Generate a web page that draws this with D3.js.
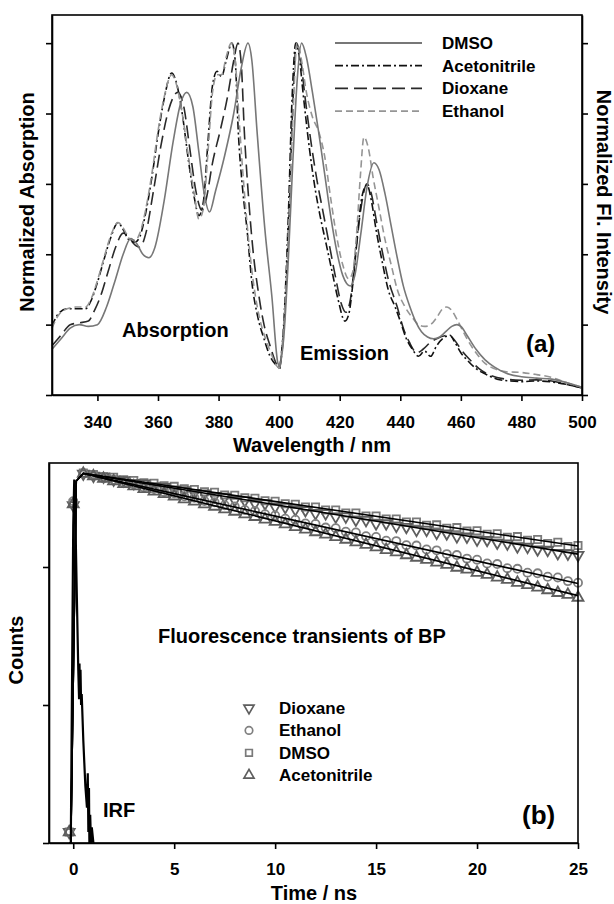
<!DOCTYPE html>
<html><head><meta charset="utf-8">
<script src="https://cdn.jsdelivr.net/npm/d3@7"></script>
<style>
body{margin:0;background:#fff;}
text{font-family:"Liberation Sans",Arial,sans-serif;font-weight:bold;fill:#000;}
</style></head>
<body><svg id="chart" width="614" height="904"></svg>
<script>
// ---------- Panel (a) data: [wavelength nm, normalized intensity] ----------
const dmsoAbs = [[325,0.13],[328,0.16],[331,0.19],[334,0.2],[337,0.195],[340,0.2],[343,0.25],[346,0.33],[348.5,0.4],[351,0.445],[353,0.43],[355,0.4],[357,0.39],[359,0.42],[362,0.55],[365,0.72],[367.5,0.83],[369.5,0.86],[371.5,0.82],[373.5,0.69],[375.5,0.56],[377,0.52],[379,0.58],[382,0.68],[385,0.8],[387.5,0.93],[389.7,1.0],[391,0.95],[392.7,0.75],[395.3,0.47],[397.6,0.28],[399.6,0.09],[400.3,0.08]];
const dmsoEm = [[400.3,0.08],[401.5,0.16],[403,0.38],[404.5,0.66],[406,0.9],[407.4,1.0],[409,0.96],[411,0.86],[413,0.75],[415,0.63],[417,0.51],[419,0.41],[421,0.34],[423.5,0.31],[425,0.34],[427,0.46],[429,0.59],[431.3,0.66],[433,0.64],[435,0.57],[437,0.48],[439,0.39],[441,0.31],[443.2,0.25],[445,0.21],[447,0.18],[449,0.165],[451,0.16],[453,0.165],[455,0.18],[457,0.195],[458.7,0.2],[460,0.195],[462,0.17],[465,0.13],[468,0.1],[471,0.08],[475,0.062],[480,0.052],[485,0.048],[490,0.045],[495,0.035],[500,0.022]];
const acnAbs = [[325,0.195],[327,0.23],[330,0.245],[333,0.245],[336,0.245],[338,0.27],[340,0.32],[342,0.38],[344.5,0.45],[346.8,0.49],[348.5,0.47],[350.5,0.44],[352.5,0.435],[354,0.45],[356,0.52],[358,0.62],[360,0.74],[362,0.84],[364.5,0.915],[366,0.89],[368,0.8],[370,0.67],[372,0.56],[373.5,0.51],[375,0.55],[376.5,0.72],[378,0.88],[379.5,0.92],[381,0.905],[382.5,0.95],[384.4,1.0],[385.5,0.95],[386.5,0.75],[388,0.58],[389.4,0.47],[391,0.32],[393,0.22],[395,0.16],[397,0.11],[399,0.085],[400.2,0.075]];
const acnEm = [[400.2,0.075],[401.5,0.2],[403,0.5],[404.3,0.85],[405.5,1.0],[406.5,0.97],[408,0.85],[410,0.7],[412,0.58],[413.5,0.51],[415.5,0.43],[417.5,0.35],[419.5,0.27],[421.7,0.21],[423,0.23],[424.5,0.33],[426,0.47],[427.5,0.57],[429,0.597],[430.5,0.55],[432,0.47],[434,0.38],[436,0.3],[438.3,0.25],[440,0.21],[442,0.16],[444,0.13],[446,0.11],[448,0.125],[450,0.11],[452,0.14],[454,0.16],[456.4,0.17],[458,0.15],[460,0.12],[462,0.1],[465,0.075],[468,0.06],[472,0.045],[476,0.04],[480,0.038],[485,0.04],[490,0.037],[495,0.03],[500,0.02]];
const dioxAbs = [[325,0.14],[328,0.17],[331,0.2],[334,0.205],[337,0.21],[339,0.24],[341,0.28],[343.5,0.35],[346,0.42],[348.5,0.46],[350,0.455],[352,0.43],[354,0.42],[356,0.46],[358.5,0.58],[361,0.71],[363.5,0.81],[366.5,0.86],[368.5,0.82],[370.5,0.7],[372.5,0.58],[374.5,0.525],[376,0.56],[378,0.66],[380.5,0.75],[383,0.85],[385,0.95],[386.4,1.0],[387.5,0.94],[388.5,0.75],[390,0.55],[391.5,0.4],[393,0.3],[395,0.2],[397,0.14],[399,0.09],[400.2,0.075]];
const dioxEm = [[400.2,0.075],[401.5,0.18],[403,0.45],[404.5,0.82],[405.7,1.0],[407,0.96],[408.5,0.85],[410.5,0.72],[412.5,0.61],[414.5,0.52],[416.5,0.43],[418.5,0.34],[420.5,0.26],[422,0.235],[423.5,0.27],[425,0.38],[427,0.53],[429,0.6],[430.5,0.57],[432,0.5],[434,0.41],[436,0.33],[439,0.25],[441,0.19],[443,0.15],[445.5,0.12],[447.5,0.13],[450,0.15],[452,0.16],[456,0.17],[458,0.155],[460,0.13],[463,0.1],[466,0.075],[470,0.055],[475,0.045],[480,0.042],[485,0.043],[490,0.04],[495,0.03],[500,0.02]];
const ethAbs = [[325,0.19],[327,0.225],[330,0.245],[333,0.25],[336,0.25],[338,0.275],[340,0.325],[342,0.385],[344.5,0.455],[346.8,0.49],[348.5,0.475],[350.5,0.445],[352.5,0.44],[354,0.46],[356,0.53],[358,0.63],[360,0.75],[362,0.845],[364.5,0.91],[366,0.885],[368,0.8],[370,0.68],[372,0.57],[373.5,0.5],[375,0.53],[376.5,0.69],[378,0.86],[379.5,0.91],[381,0.91],[382.5,0.96],[384.2,1.0],[385.5,0.95],[386.8,0.78],[388.3,0.6],[389.8,0.45],[391.5,0.32],[393.5,0.22],[395.5,0.16],[397.5,0.115],[399,0.085],[400.1,0.075]];
const ethEm = [[400.1,0.075],[401.5,0.19],[403,0.45],[404.5,0.78],[405.9,1.0],[407.2,0.96],[409,0.86],[411,0.79],[413,0.75],[415,0.68],[417,0.56],[419,0.45],[421,0.37],[423,0.33],[424.3,0.35],[425.5,0.45],[426.8,0.62],[428,0.733],[429.5,0.7],[431,0.62],[433,0.53],[435,0.44],[437,0.37],[439,0.3],[441.6,0.25],[444,0.22],[446,0.2],[448,0.195],[450,0.2],[452,0.22],[454,0.245],[455.4,0.25],[457,0.24],[459,0.21],[462,0.16],[465,0.12],[468,0.09],[471,0.075],[475,0.066],[480,0.064],[485,0.058],[490,0.05],[495,0.035],[500,0.022]];
const solventsA = ["DMSO","Acetonitrile","Dioxane","Ethanol"];
const wavelengthTicks = [340,360,380,400,420,440,460,480,500];
const intensityTicks = [0,0.2,0.4,0.6,0.8,1.0];

// ---------- Panel (b) data ----------
const timeNs = [-0.2,0,0.5,1,1.5,2,2.5,3,3.5,4,4.5,5,5.5,6,6.5,7,7.5,8,8.5,9,9.5,10,10.5,11,11.5,12,12.5,13,13.5,14,14.5,15,15.5,16,16.5,17,17.5,18,18.5,19,19.5,20,20.5,21,21.5,22,22.5,23,23.5,24,24.5,25];
const dmsoCounts = [1.2,290,480,468,451,447,429,424,408,404,388,384,369,365,351,348,333,331,317,315,302,300,287,285,272,272,259,259,246,246,234,234,223,223,212,212,201,202,191,193,182,183,173,174,164,166,156,158,148,151,141,143];
const dioxaneCounts = [1.2,280,474,458,452,430,425,406,402,384,380,364,360,344,340,326,322,305,304,290,289,274,272,262,258,246,245,232,232,220,219,207,207,199,195,186,186,177,175,167,166,158,157,150,148,141,140,134,133,126,125,122];
const ethanolCounts = [1.2,300,478,462,440,428,408,398,378,368,350,342,325,318,301,295,280,274,259,255,241,236,224,220,207,205,193,191,180,178,167,165,155,154,144,143,134,132,124,122,115,113,106,105,98,97,91,90,85,84,79,77];
const acetonitrileCounts = [1.2,285,474,455,436,419,400,385,368,353,338,325,310,298,285,274,262,252,241,231,221,213,204,195,187,179,172,165,158,151,145,139,133,128,122,117,113,108,104,99,96,91,88,84,81,77,74,71,68,65,63,60];
const fitTimes = [-0.12,0.15,0.5,25];
const dmsoFit = [1,420,478,142];
const dioxaneFit = [1,420,477,124];
const ethanolFit = [1,420,477,76];
const acetonitrileFit = [1,420,477,62];
const irfTimes = [-0.2,-0.12,0.0,0.05,0.1,0.18,0.25,0.29,0.31,0.33,0.36,0.39,0.42,0.5,0.6,0.68,0.72,0.75,0.78,0.8,0.84,0.88,0.92,1.0];
const irfCounts = [1,1,200,430,250,60,18,11,20,13,18,10,12,5.5,2.6,1.8,3.2,1.2,2.5,1,1.6,1,1.3,1];
const timeTicks = [0,5,10,15,20,25];
const countTicks = [1,10,100];
const solventsB = ["Dioxane","Ethanol","DMSO","Acetonitrile"];

const svg = d3.select("#chart");

// ================= Panel (a) =================
const xA = d3.scaleLinear().domain([325,500]).range([52,582]);
const yA = d3.scaleLinear().domain([0,1.08]).range([395,15]);
const gA = svg.append("g");

const styleA = {
  "DMSO":{color:"#777",dash:null,w:1.6},
  "Acetonitrile":{color:"#111",dash:"8,3,2,3",w:1.6},
  "Dioxane":{color:"#2a2a2a",dash:"13,6",w:1.6},
  "Ethanol":{color:"#959595",dash:"7,4",w:1.6}
};
const specLine = d3.line().x(d=>xA(d[0])).y(d=>yA(d[1])).curve(d3.curveMonotoneX);
const spectra = [["Dioxane",dioxAbs,dioxEm],["Acetonitrile",acnAbs,acnEm],["Ethanol",ethAbs,ethEm],["DMSO",dmsoAbs,dmsoEm]];
spectra.forEach(([name,abs,em])=>{
  [abs,em].forEach(arr=>{
    gA.append("path").attr("d",specLine(arr)).attr("fill","none")
      .attr("stroke",styleA[name].color).attr("stroke-width",styleA[name].w)
      .attr("stroke-dasharray",styleA[name].dash);
  });
});

gA.append("rect").attr("x",52).attr("y",15).attr("width",530).attr("height",380)
  .attr("fill","none").attr("stroke","#000").attr("stroke-width",1.6);

const axA = gA.append("g").attr("transform","translate(0,395)")
  .call(d3.axisBottom(xA).tickValues(wavelengthTicks).tickSize(6).tickSizeOuter(0).tickPadding(15));
const ayL = gA.append("g").attr("transform","translate(52,0)")
  .call(d3.axisLeft(yA).tickValues(intensityTicks).tickSize(6).tickSizeOuter(0).tickFormat(""));
const ayR = gA.append("g").attr("transform","translate(582,0)")
  .call(d3.axisRight(yA).tickValues(intensityTicks).tickSize(6).tickSizeOuter(0).tickFormat(""));
[axA,ayL,ayR].forEach(a=>{
  a.selectAll("path").attr("stroke","#000").attr("stroke-width",1.6);
  a.selectAll("line").attr("stroke","#000").attr("stroke-width",1.6);
  a.selectAll("text").style("font-size","17px").style("font-family","Liberation Sans, Arial, sans-serif").style("font-weight","bold").attr("fill","#000");
});

solventsA.forEach((name,i)=>{
  const cy = 43 + i*22.7;
  gA.append("line").attr("x1",335).attr("x2",422).attr("y1",cy).attr("y2",cy)
    .attr("stroke",styleA[name].color).attr("stroke-width",1.8).attr("stroke-dasharray",styleA[name].dash);
  gA.append("text").attr("x",442).attr("y",cy+6).style("font-size","17px").text(name);
});
gA.append("text").attr("x",122).attr("y",337).style("font-size","20px").text("Absorption");
gA.append("text").attr("x",300).attr("y",360).style("font-size","20px").text("Emission");
gA.append("text").attr("x",526).attr("y",352).style("font-size","24px").text("(a)");
gA.append("text").attr("transform","translate(34,202) rotate(-90)").attr("text-anchor","middle")
  .style("font-size","20px").text("Normalized Absorption");
gA.append("text").attr("transform","translate(597,202) rotate(90)").attr("text-anchor","middle")
  .style("font-size","20px").text("Normalized Fl. Intensity");
gA.append("text").attr("x",312).attr("y",452).attr("text-anchor","middle")
  .style("font-size","20px").text("Wavelength / nm");

// ================= Panel (b) =================
const xB = d3.scaleLinear().domain([-1.2,25]).range([49,578]);
const yB = d3.scaleLog().domain([1,567]).range([843,463]).clamp(true);
const gB = svg.append("g");

const markerDefs = {
  "Dioxane":{counts:dioxaneCounts,type:d3.symbolTriangle,rot:180,color:"#5e5e5e",size:52},
  "Ethanol":{counts:ethanolCounts,type:d3.symbolCircle,rot:0,color:"#808080",size:52},
  "DMSO":{counts:dmsoCounts,type:d3.symbolSquare,rot:0,color:"#7a7a7a",size:52},
  "Acetonitrile":{counts:acetonitrileCounts,type:d3.symbolTriangle,rot:0,color:"#5e5e5e",size:52}
};
["DMSO","Dioxane","Ethanol","Acetonitrile"].forEach(name=>{
  const m = markerDefs[name];
  const sym = d3.symbol().type(m.type).size(m.size);
  gB.append("g").selectAll("path").data(timeNs.map((t,i)=>[t,m.counts[i]])).join("path")
    .attr("d",sym)
    .attr("transform",d=>`translate(${xB(d[0])},${yB(d[1])}) rotate(${m.rot})`)
    .attr("fill","none").attr("stroke",m.color).attr("stroke-width",1.8);
});

const logLine = d3.line().x(d=>xB(d[0])).y(d=>yB(d[1]));
[dmsoFit,dioxaneFit,ethanolFit,acetonitrileFit].forEach(fit=>{
  gB.append("path").attr("d",logLine(fitTimes.map((t,i)=>[t,fit[i]])))
    .attr("fill","none").attr("stroke","#000").attr("stroke-width",1.6);
});
gB.append("path").attr("d",logLine(irfTimes.map((t,i)=>[t,irfCounts[i]])))
  .attr("fill","none").attr("stroke","#000").attr("stroke-width",2.2);

gB.append("rect").attr("x",49).attr("y",463).attr("width",529).attr("height",380)
  .attr("fill","none").attr("stroke","#000").attr("stroke-width",1.6);
const axB = gB.append("g").attr("transform","translate(0,843)")
  .call(d3.axisBottom(xB).tickValues(timeTicks).tickSize(6).tickSizeOuter(0).tickPadding(14));
const ayB = gB.append("g").attr("transform","translate(49,0)")
  .call(d3.axisLeft(yB).tickValues(countTicks).tickSize(6).tickSizeOuter(0).tickFormat(""));
[axB,ayB].forEach(a=>{
  a.selectAll("path").attr("stroke","#000").attr("stroke-width",1.6);
  a.selectAll("line").attr("stroke","#000").attr("stroke-width",1.6);
  a.selectAll("text").style("font-size","17px").style("font-family","Liberation Sans, Arial, sans-serif").style("font-weight","bold").attr("fill","#000");
});

solventsB.forEach((name,i)=>{
  const cy = 708 + i*22.4;
  const m = markerDefs[name];
  gB.append("path").attr("d",d3.symbol().type(m.type).size(44))
    .attr("transform",`translate(249,${cy}) rotate(${m.rot})`)
    .attr("fill","none").attr("stroke",m.color).attr("stroke-width",1.7);
  gB.append("text").attr("x",279).attr("y",cy+6).style("font-size","17px").text(name);
});
gB.append("text").attr("x",158).attr("y",643).style("font-size","20px").text("Fluorescence transients of BP");
gB.append("text").attr("x",103).attr("y",817).style("font-size","20px").text("IRF");
gB.append("text").attr("x",522).attr("y",824).style("font-size","26px").text("(b)");
gB.append("text").attr("transform","translate(23,650) rotate(-90)").attr("text-anchor","middle")
  .style("font-size","20px").text("Counts");
gB.append("text").attr("x",314).attr("y",900).attr("text-anchor","middle")
  .style("font-size","20px").text("Time / ns");
</script></body></html>
